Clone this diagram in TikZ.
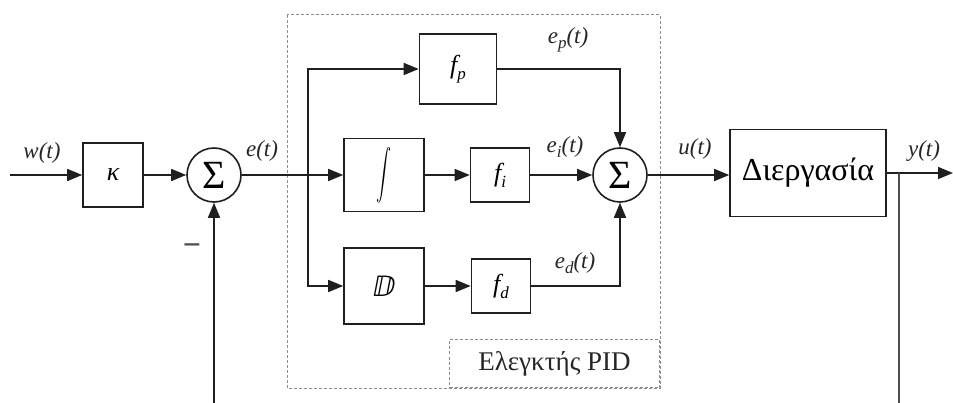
\documentclass[tikz,border=0pt]{standalone}
\usepackage{fontspec}
\usepackage{graphicx}
\setmainfont{Liberation Serif}
\newfontfamily\tms{Liberation Serif}
\newfontfamily\dvfont{DejaVu Sans}
\usetikzlibrary{arrows.meta}
\newcommand{\lsub}[1]{\raisebox{-0.5ex}{\fontsize{17}{17}\selectfont #1}}
\begin{document}
\begin{tikzpicture}[x=1pt,y=-1pt,
  line width=1.6pt, draw=black!88,
  blk/.style={draw=black!88, line width=1.6pt, inner sep=0pt, font=\tms\fontsize{26}{26}\selectfont\itshape},
  sumnode/.style={circle, draw=black!88, line width=1.6pt, minimum size=54pt, inner sep=0pt, font=\tms\fontsize{40}{40}\selectfont},
  arr/.style={-{Triangle[length=15pt,width=12pt]}},
  lbl/.style={font=\tms\fontsize{23}{24}\selectfont\itshape, text=black!85},
  dbox/.style={draw=black!45, line width=1pt, densely dashed}
]
\useasboundingbox (0,0) rectangle (953,403);
% PID dashed frame
\draw[dbox] (287,15) rectangle (660,388);
\node[dbox, minimum width=210pt, minimum height=48pt, anchor=south east,
      font=\tms\fontsize{27}{27}\selectfont, text=black!85] (pidlbl) at (660,388) {Ελεγκτής PID};

% blocks
\coordinate (in) at (10,175);
\node[blk, minimum width=60pt, minimum height=64pt] (K) at (113,175) {κ};
\node[sumnode] (S1) at (214,175) {Σ};
\coordinate (br) at (308,175);
\node[blk, minimum width=77pt, minimum height=70pt] (fp) at (458,69) {f\lsub{p}};
\node[blk, minimum width=80pt, minimum height=73pt] (int) at (384,175) {\scalebox{1.5}[2.5]{$\displaystyle\int$}};
\node[blk, minimum width=59pt, minimum height=54pt] (fi) at (500,175) {f\lsub{i}};
\node[blk, minimum width=80pt, minimum height=76pt] (D) at (384,286) {\dvfont\fontsize{28}{28}\selectfont ⅅ};
\node[blk, minimum width=59pt, minimum height=54pt] (fd) at (501,286) {f\lsub{d}};
\node[sumnode] (S2) at (620,175) {Σ};
\node[blk, minimum width=156pt, minimum height=87pt, font=\tms\fontsize{32}{32}\selectfont] (P) at (808,173) {Διεργασία};
\coordinate (out) at (953,173);
\coordinate (yb) at (899,173);
\coordinate (fbR) at (899,403);
\coordinate (fbL) at (214,403);

% connectors
\draw[arr] (in) -- (K);
\draw[arr] (K) -- (S1);
\draw (S1.east) -- (br);
\draw[arr] (br) |- (fp.west);
\draw[arr] (br) |- (D.west);
\draw[arr] (br) -- (int.west);
\draw[arr] (int) -- (fi);
\draw[arr] (D) -- (fd);
\draw[arr] (fi) -- (S2);
\draw[arr] (fp.east) -| (S2.north);
\draw[arr] (fd.east) -| (S2.south);
\draw[arr] (S2.east) -- (S2.east -| P.west);
\draw[arr] (P.east) -- (out);
\draw[draw=black!70] (yb) -- (fbR);
\draw[arr] (fbL) -- (S1.south);

% labels
\node[lbl] (lw) at (42,153) {w(t)};
\node[lbl] (le) at (262,151) {e(t)};
\node[lbl] (lep) at (568,40) {e\lsub{p}(t)};
\node[lbl] (lei) at (565,147) {e\lsub{i}(t)};
\node[lbl] (led) at (575,263) {e\lsub{d}(t)};
\node[lbl] (lu) at (695,149) {u(t)};
\node[lbl] (ly) at (924,151) {y(t)};
\node[font=\tms\fontsize{32}{32}\selectfont\bfseries, text=black!70] (minus) at (192,250) {−};
\end{tikzpicture}
\end{document}
